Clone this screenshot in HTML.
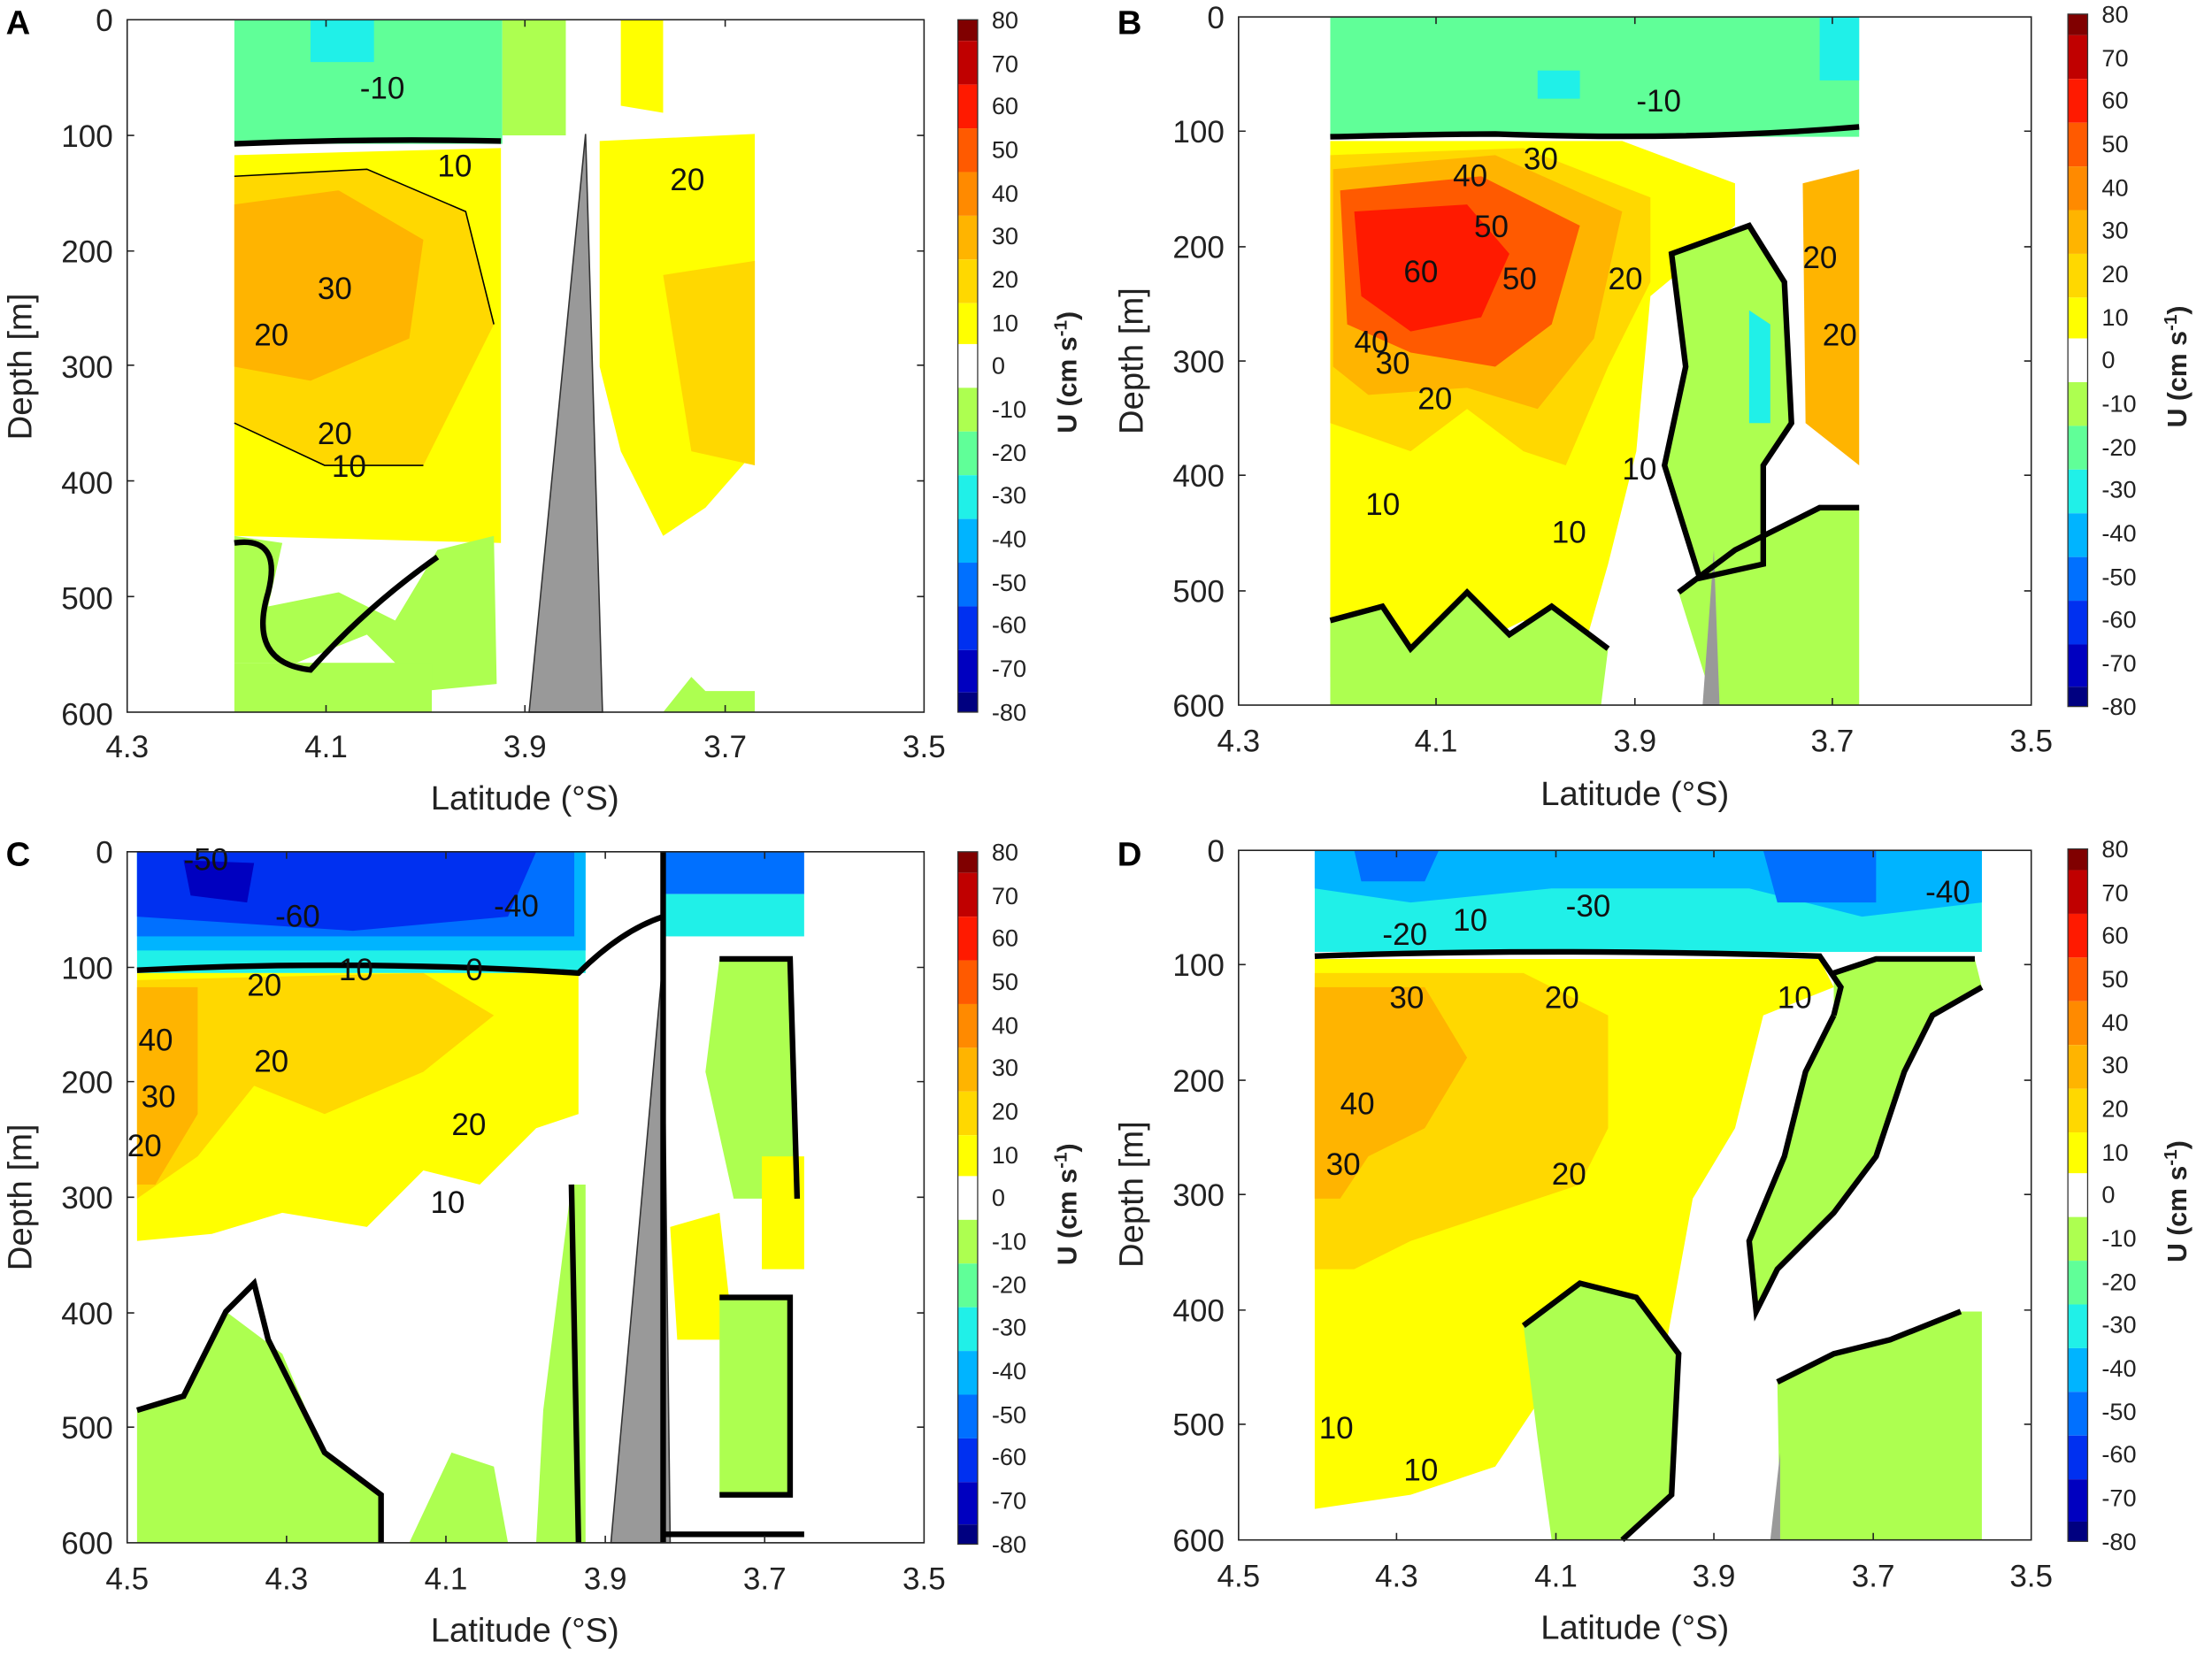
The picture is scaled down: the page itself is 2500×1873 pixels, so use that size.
<!DOCTYPE html>
<html><head><style>body{margin:0;background:#fff}svg{display:block}text{font-family:"Liberation Sans",Arial,sans-serif}</style></head><body>
<svg width="2500" height="1873" viewBox="0 0 1568 1175" xmlns="http://www.w3.org/2000/svg">
<defs>
<g id="cbar">
<rect x="0" y="0" width="14" height="15" fill="#800000"/>
<rect x="0" y="15" width="14" height="31" fill="#c00000"/>
<rect x="0" y="46" width="14" height="31" fill="#ff1a00"/>
<rect x="0" y="77" width="14" height="31" fill="#ff5a00"/>
<rect x="0" y="108" width="14" height="31" fill="#ff8a00"/>
<rect x="0" y="139" width="14" height="31" fill="#ffb400"/>
<rect x="0" y="170" width="14" height="31" fill="#ffd800"/>
<rect x="0" y="201" width="14" height="29" fill="#ffff00"/>
<rect x="0" y="230" width="14" height="31" fill="#ffffff"/>
<rect x="0" y="261" width="14" height="31" fill="#adff50"/>
<rect x="0" y="292" width="14" height="31" fill="#60ff98"/>
<rect x="0" y="323" width="14" height="31" fill="#20f0e8"/>
<rect x="0" y="354" width="14" height="31" fill="#00b4ff"/>
<rect x="0" y="385" width="14" height="31" fill="#0070ff"/>
<rect x="0" y="416" width="14" height="31" fill="#0030f0"/>
<rect x="0" y="447" width="14" height="30" fill="#0000c0"/>
<rect x="0" y="477" width="14" height="14" fill="#000080"/>
<rect x="0" y="0" width="14" height="491" fill="none" stroke="#333" stroke-width="0.8"/>
<g font-size="17" fill="#222">
<text x="24" y="6">80</text><text x="24" y="37">70</text><text x="24" y="67">60</text><text x="24" y="98">50</text><text x="24" y="129">40</text><text x="24" y="159">30</text><text x="24" y="190">20</text><text x="24" y="221">10</text><text x="24" y="251">0</text><text x="24" y="282">-10</text><text x="24" y="313">-20</text><text x="24" y="343">-30</text><text x="24" y="374">-40</text><text x="24" y="405">-50</text><text x="24" y="435">-60</text><text x="24" y="466">-70</text><text x="24" y="497">-80</text>
</g>
<text transform="translate(84,250) rotate(-90)" font-size="19" font-weight="bold" text-anchor="middle" fill="#222">U (cm s<tspan font-size="13" dy="-7">-1</tspan><tspan dy="7">)</tspan></text>
</g>
</defs>

<!-- Panel A -->
<g>
<rect x="166" y="14" width="190" height="88" fill="#60ff98"/>
<rect x="220" y="14" width="45" height="30" fill="#20f0e8"/>
<rect x="356" y="14" width="45" height="82" fill="#adff50"/>
<path d="M166 110 L355 105 L355 385 L166 380Z" fill="#ffff00"/>
<path d="M166 125 L260 120 L330 150 L350 230 L300 330 L230 330 L166 300Z" fill="#ffd800"/>
<path d="M166 145 L240 135 L300 170 L290 240 L220 270 L166 260Z" fill="#ffb400"/>
<path d="M166 380 L200 385 L190 430 L240 420 L280 440 L310 390 L350 380 L352 485 L300 490 L260 450 L210 470 L166 470Z" fill="#adff50"/>
<rect x="166" y="470" width="140" height="35" fill="#adff50"/>
<path d="M425 100 L535 95 L535 320 L500 360 L470 380 L440 320 L425 260Z" fill="#ffff00"/>
<path d="M470 195 L535 185 L535 330 L490 320Z" fill="#ffd800"/>
<path d="M440 14 L470 14 L470 80 L440 75Z" fill="#ffff00"/>
<path d="M500 490 L535 490 L535 505 L470 505 L490 480Z" fill="#adff50"/>
<path d="M166 102 Q260 98 355 100" stroke="#000" stroke-width="4" fill="none"/>
<path d="M166 385 Q200 380 190 420 Q175 470 220 475 Q260 430 310 395" stroke="#000" stroke-width="4" fill="none"/>
<path d="M166 125 L260 120 L330 150 L350 230 M166 300 L230 330 L300 330" stroke="#000" stroke-width="1" fill="none"/>
<polygon points="415,95 375,505 427,505" fill="#999" stroke="#333" stroke-width="1"/>
<g font-size="22" fill="#111"><text x="310" y="125">10</text><text x="225" y="212">30</text><text x="180" y="245">20</text><text x="225" y="315">20</text><text x="235" y="338">10</text><text x="475" y="135">20</text><text x="255" y="70">-10</text></g>
<rect x="90" y="14" width="565" height="491" fill="none" stroke="#222" stroke-width="1"/>
<path d="M90 96h5M90 178h5M90 259h5M90 341h5M90 423h5M650 96h5M650 178h5M650 259h5M650 341h5M650 423h5M231 505v-5M372 505v-5M514 505v-5M231 14v5M372 14v5M514 14v5" stroke="#222" stroke-width="1"/>
<g font-size="22" fill="#222" text-anchor="end"><text x="80" y="22">0</text><text x="80" y="104">100</text><text x="80" y="186">200</text><text x="80" y="268">300</text><text x="80" y="350">400</text><text x="80" y="432">500</text><text x="80" y="514">600</text></g>
<g font-size="22" fill="#222" text-anchor="middle"><text x="90" y="537">4.3</text><text x="231" y="537">4.1</text><text x="372" y="537">3.9</text><text x="514" y="537">3.7</text><text x="655" y="537">3.5</text></g>
<text x="372" y="574" font-size="24" text-anchor="middle" fill="#222">Latitude (°S)</text>
<text transform="translate(22,260) rotate(-90)" font-size="24" text-anchor="middle" fill="#222">Depth [m]</text>
<text x="4" y="24" font-size="24" font-weight="bold">A</text>
<use href="#cbar" x="679" y="14"/>
</g>

<!-- Panel B -->
<g>
<rect x="943" y="12" width="375" height="85" fill="#60ff98"/>
<rect x="1290" y="12" width="28" height="45" fill="#20f0e8"/>
<rect x="1090" y="50" width="30" height="20" fill="#20f0e8"/>
<path d="M943 100 L1150 100 L1230 130 L1230 160 L1170 210 L1160 320 L1140 400 L1120 470 L1080 440 L1020 470 L943 480Z" fill="#ffff00"/>
<path d="M943 110 L1080 105 L1170 140 L1170 200 L1140 260 L1110 330 L1080 320 L1040 290 L1000 320 L943 300Z" fill="#ffd800"/>
<path d="M945 120 L1060 110 L1150 150 L1130 240 L1090 290 L1040 275 L970 280 L945 260Z" fill="#ffb400"/>
<path d="M950 135 L1050 125 L1120 160 L1100 230 L1060 260 L1000 250 L955 230Z" fill="#ff5a00"/>
<path d="M960 150 L1040 145 L1070 180 L1050 225 L1000 235 L965 210Z" fill="#ff1a00"/>
<path d="M1185 180 L1240 160 L1265 200 L1270 300 L1250 330 L1250 400 L1205 410 L1180 330 L1195 260 Z" fill="#adff50"/>
<path d="M1240 220 L1255 230 L1255 300 L1240 300Z" fill="#20f0e8"/>
<path d="M1278 130 L1318 120 L1318 330 L1280 300Z" fill="#ffb400"/>
<path d="M1190 420 L1230 390 L1290 360 L1318 360 L1318 500 L1215 500Z" fill="#adff50"/>
<path d="M943 440 L980 430 L1000 460 L1040 420 L1070 450 L1100 430 L1140 460 L1135 500 L943 500Z" fill="#adff50"/>
<polygon points="1215,390 1207,500 1219,500" fill="#999"/>
<path d="M943 97 Q1030 95 1060 95 Q1200 100 1318 90" stroke="#000" stroke-width="4" fill="none"/>
<path d="M1185 180 L1240 160 L1265 200 L1270 300 L1250 330 L1250 400 L1205 410 L1180 330 L1195 260 Z M1190 420 L1230 390 L1290 360 L1318 360" stroke="#000" stroke-width="4" fill="none"/>
<path d="M943 440 L980 430 L1000 460 L1040 420 L1070 450 L1100 430 L1140 460" stroke="#000" stroke-width="4" fill="none"/>
<g font-size="22" fill="#111"><text x="1160" y="79">-10</text><text x="1030" y="132">40</text><text x="1080" y="120">30</text><text x="1045" y="168">50</text><text x="995" y="200">60</text><text x="1065" y="205">50</text><text x="1140" y="205">20</text><text x="960" y="250">40</text><text x="975" y="265">30</text><text x="1005" y="290">20</text><text x="1150" y="340">10</text><text x="968" y="365">10</text><text x="1100" y="385">10</text><text x="1278" y="190">20</text><text x="1292" y="245">20</text></g>
<rect x="878" y="12" width="562" height="488" fill="none" stroke="#222" stroke-width="1"/>
<path d="M878 93h5M878 175h5M878 256h5M878 337h5M878 419h5M1435 93h5M1435 175h5M1435 256h5M1435 337h5M1435 419h5M1018 500v-5M1159 500v-5M1299 500v-5M1018 12v5M1159 12v5M1299 12v5" stroke="#222" stroke-width="1"/>
<g font-size="22" fill="#222" text-anchor="end"><text x="868" y="20">0</text><text x="868" y="101">100</text><text x="868" y="183">200</text><text x="868" y="264">300</text><text x="868" y="345">400</text><text x="868" y="427">500</text><text x="868" y="508">600</text></g>
<g font-size="22" fill="#222" text-anchor="middle"><text x="878" y="533">4.3</text><text x="1018" y="533">4.1</text><text x="1159" y="533">3.9</text><text x="1299" y="533">3.7</text><text x="1440" y="533">3.5</text></g>
<text x="1159" y="571" font-size="24" text-anchor="middle" fill="#222">Latitude (°S)</text>
<text transform="translate(810,256) rotate(-90)" font-size="24" text-anchor="middle" fill="#222">Depth [m]</text>
<text x="792" y="24" font-size="24" font-weight="bold">B</text>
<use href="#cbar" x="1466" y="10"/>
</g>

<!-- Panel C -->
<g>
<rect x="97" y="604" width="318" height="86" fill="#20f0e8"/>
<rect x="97" y="604" width="318" height="70" fill="#00b4ff"/>
<rect x="97" y="604" width="310" height="60" fill="#0070ff"/>
<path d="M97 604 L380 604 L360 650 L250 660 L97 650Z" fill="#0030f0"/>
<path d="M130 610 L180 612 L175 640 L135 635Z" fill="#0000c0"/>
<rect x="470" y="604" width="100" height="30" fill="#0070ff"/>
<rect x="470" y="634" width="100" height="30" fill="#20f0e8"/>
<path d="M97 690 L410 690 L410 790 L380 800 L340 840 L300 830 L260 870 L200 860 L150 875 L97 880Z" fill="#ffff00"/>
<path d="M97 695 L300 690 L350 720 L300 760 L230 790 L180 770 L140 820 L97 850Z" fill="#ffd800"/>
<path d="M97 700 L140 700 L140 790 L110 840 L97 840Z" fill="#ffb400"/>
<path d="M97 1000 L130 990 L160 930 L200 960 L230 1030 L270 1060 L270 1094 L97 1094Z" fill="#adff50"/>
<path d="M405 840 L415 840 L415 1094 L380 1094 L385 1000Z" fill="#adff50"/>
<path d="M290 1094 L320 1030 L350 1040 L360 1094Z" fill="#adff50"/>
<path d="M510 680 L560 680 L565 850 L520 850 L500 760Z" fill="#adff50"/>
<path d="M475 870 L510 860 L520 950 L480 950Z" fill="#ffff00"/>
<path d="M510 920 L560 920 L560 1060 L510 1060Z" fill="#adff50"/>
<path d="M540 820 L570 820 L570 900 L540 900Z" fill="#ffff00"/>
<polygon points="470,680 433,1094 475,1094" fill="#999" stroke="#333" stroke-width="1"/>
<path d="M97 688 Q250 680 410 690 Q440 660 470 650" stroke="#000" stroke-width="4" fill="none"/>
<path d="M97 1000 L130 990 L160 930 L180 910 L190 950 L230 1030 L270 1060 L270 1094 M405 840 L410 1094 M510 680 L560 680 L565 850 M510 920 L560 920 L560 1060 L510 1060 M470 1088 L570 1088 M470 604 L470 1094" stroke="#000" stroke-width="4" fill="none"/>
<g font-size="22" fill="#111"><text x="130" y="617">-50</text><text x="195" y="657">-60</text><text x="350" y="650">-40</text><text x="175" y="706">20</text><text x="240" y="695">10</text><text x="98" y="745">40</text><text x="100" y="785">30</text><text x="180" y="760">20</text><text x="320" y="805">20</text><text x="305" y="860">10</text><text x="90" y="820">20</text><text x="330" y="695">0</text></g>
<rect x="90" y="604" width="565" height="490" fill="none" stroke="#222" stroke-width="1"/>
<path d="M90 686h5M90 767h5M90 849h5M90 931h5M90 1012h5M650 686h5M650 767h5M650 849h5M650 931h5M650 1012h5M203 1094v-5M316 1094v-5M429 1094v-5M542 1094v-5M203 604v5M316 604v5M429 604v5M542 604v5" stroke="#222" stroke-width="1"/>
<g font-size="22" fill="#222" text-anchor="end"><text x="80" y="612">0</text><text x="80" y="694">100</text><text x="80" y="775">200</text><text x="80" y="857">300</text><text x="80" y="939">400</text><text x="80" y="1020">500</text><text x="80" y="1102">600</text></g>
<g font-size="22" fill="#222" text-anchor="middle"><text x="90" y="1127">4.5</text><text x="203" y="1127">4.3</text><text x="316" y="1127">4.1</text><text x="429" y="1127">3.9</text><text x="542" y="1127">3.7</text><text x="655" y="1127">3.5</text></g>
<text x="372" y="1164" font-size="24" text-anchor="middle" fill="#222">Latitude (°S)</text>
<text transform="translate(22,849) rotate(-90)" font-size="24" text-anchor="middle" fill="#222">Depth [m]</text>
<text x="4" y="614" font-size="24" font-weight="bold">C</text>
<use href="#cbar" x="679" y="604"/>
</g>

<!-- Panel D -->
<g>
<rect x="932" y="603" width="473" height="72" fill="#20f0e8"/>
<path d="M932 603 L1405 603 L1405 640 L1320 650 L1240 630 L1100 630 L1000 640 L932 630Z" fill="#00b4ff"/>
<path d="M960 603 L1020 603 L1010 625 L965 625Z M1250 603 L1330 603 L1330 640 L1260 640Z" fill="#0070ff"/>
<path d="M932 680 L1290 680 L1300 700 L1250 720 L1230 800 L1200 850 L1180 960 L1150 1000 L1100 980 L1060 1040 L1000 1060 L932 1070Z" fill="#ffff00"/>
<path d="M932 690 L1080 690 L1140 720 L1140 800 L1120 840 L1060 860 L1000 880 L960 900 L932 900Z" fill="#ffd800"/>
<path d="M932 700 L1010 700 L1040 750 L1010 800 L970 820 L950 850 L932 850Z" fill="#ffb400"/>
<path d="M1300 690 L1330 680 L1400 680 L1405 700 L1370 720 L1350 760 L1330 820 L1300 860 L1260 900 L1245 930 L1240 880 L1265 820 L1280 760 L1300 720Z" fill="#adff50"/>
<path d="M1260 980 L1300 960 L1340 950 L1390 930 L1405 930 L1405 1092 L1262 1092Z" fill="#adff50"/>
<path d="M1080 940 L1120 910 L1160 920 L1190 960 L1185 1060 L1150 1092 L1100 1092 L1090 1020Z" fill="#adff50"/>
<polygon points="1262,1030 1255,1092 1262,1092" fill="#999"/>
<path d="M932 678 Q1100 672 1290 678 L1305 700 L1300 720 M1300 690 L1330 680 L1400 680" stroke="#000" stroke-width="4" fill="none"/>
<path d="M1300 720 L1280 760 L1265 820 L1240 880 L1245 930 L1260 900 L1300 860 L1330 820 L1350 760 L1370 720 L1405 700 M1080 940 L1120 910 L1160 920 L1190 960 L1185 1060 L1150 1092 M1260 980 L1300 960 L1340 950 L1390 930" stroke="#000" stroke-width="4" fill="none"/>
<g font-size="22" fill="#111"><text x="1365" y="640">-40</text><text x="1110" y="650">-30</text><text x="980" y="670">-20</text><text x="1030" y="660">10</text><text x="985" y="715">30</text><text x="1095" y="715">20</text><text x="950" y="790">40</text><text x="940" y="833">30</text><text x="1100" y="840">20</text><text x="1260" y="715">10</text><text x="935" y="1020">10</text><text x="995" y="1050">10</text></g>
<rect x="878" y="603" width="562" height="489" fill="none" stroke="#222" stroke-width="1"/>
<path d="M878 684h5M878 766h5M878 847h5M878 929h5M878 1010h5M1435 684h5M1435 766h5M1435 847h5M1435 929h5M1435 1010h5M990 1092v-5M1103 1092v-5M1215 1092v-5M1328 1092v-5M990 603v5M1103 603v5M1215 603v5M1328 603v5" stroke="#222" stroke-width="1"/>
<g font-size="22" fill="#222" text-anchor="end"><text x="868" y="611">0</text><text x="868" y="692">100</text><text x="868" y="774">200</text><text x="868" y="855">300</text><text x="868" y="937">400</text><text x="868" y="1018">500</text><text x="868" y="1100">600</text></g>
<g font-size="22" fill="#222" text-anchor="middle"><text x="878" y="1125">4.5</text><text x="990" y="1125">4.3</text><text x="1103" y="1125">4.1</text><text x="1215" y="1125">3.9</text><text x="1328" y="1125">3.7</text><text x="1440" y="1125">3.5</text></g>
<text x="1159" y="1162" font-size="24" text-anchor="middle" fill="#222">Latitude (°S)</text>
<text transform="translate(810,847) rotate(-90)" font-size="24" text-anchor="middle" fill="#222">Depth [m]</text>
<text x="792" y="614" font-size="24" font-weight="bold">D</text>
<use href="#cbar" x="1466" y="602"/>
</g>
</svg>
</body></html>
